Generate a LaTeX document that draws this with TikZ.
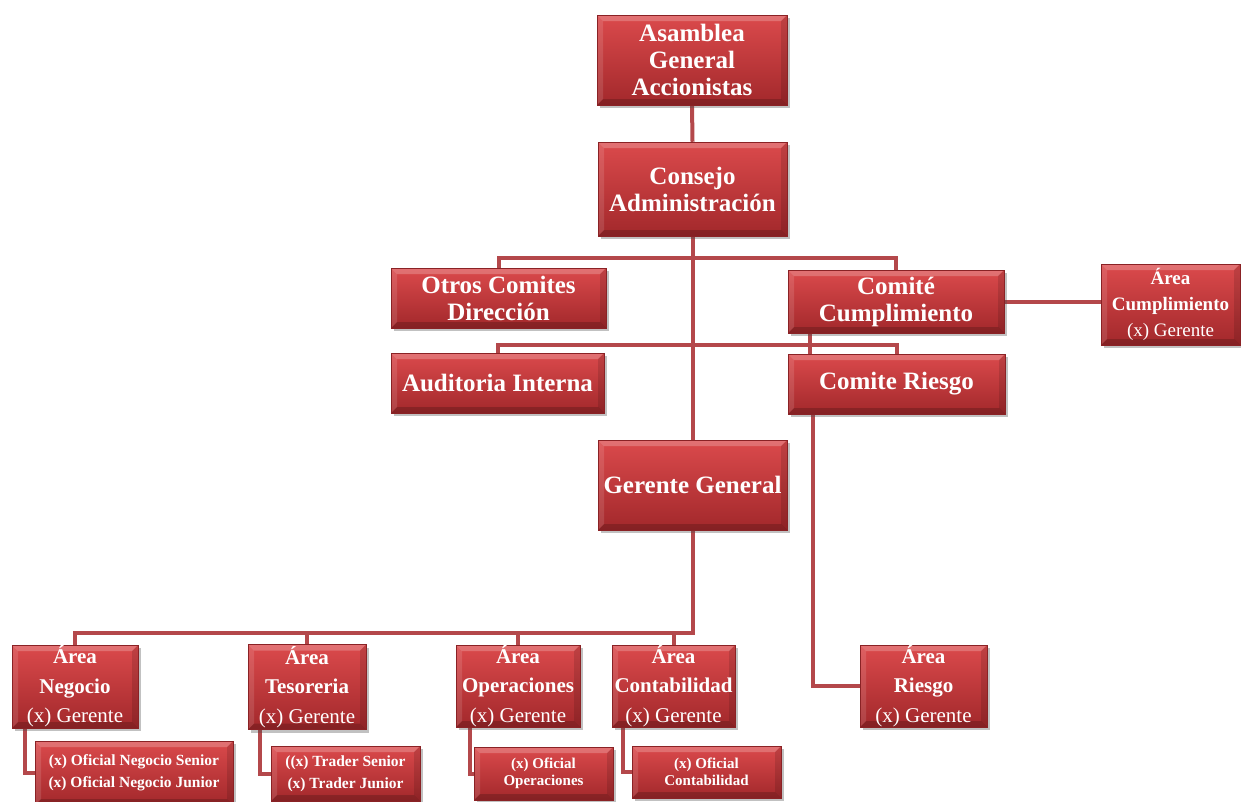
\documentclass[tikz,border=0pt]{standalone}
\usepackage{fontspec}
\setmainfont{Liberation Serif}
\usetikzlibrary{shadows,backgrounds}
\definecolor{boxtop}{HTML}{DB4A4C}
\definecolor{boxmid}{HTML}{CC3C3F}
\definecolor{boxbot}{HTML}{A2282B}
\definecolor{linec}{HTML}{B4484B}
\tikzset{
  orgbox/.style={draw=boxbot!85!black, line width=0.5pt, inner sep=0pt,
    top color=boxtop, middle color=boxmid, bottom color=boxbot,
    text=white, align=center,
    drop shadow={shadow xshift=2.5pt, shadow yshift=-3pt, opacity=.35, fill=black!70},
    path picture={
      \fill[white,opacity=.22] (path picture bounding box.north west) -- (path picture bounding box.north east)
        -- ([shift={(-6pt,-6pt)}]path picture bounding box.north east) -- ([shift={(6pt,-6pt)}]path picture bounding box.north west) -- cycle;
      \fill[white,opacity=.12] (path picture bounding box.north west) -- ([shift={(6pt,-6pt)}]path picture bounding box.north west)
        -- ([shift={(6pt,6pt)}]path picture bounding box.south west) -- (path picture bounding box.south west) -- cycle;
      \fill[black,opacity=.18] (path picture bounding box.south west) -- (path picture bounding box.south east)
        -- ([shift={(-6pt,6pt)}]path picture bounding box.south east) -- ([shift={(6pt,6pt)}]path picture bounding box.south west) -- cycle;
      \fill[black,opacity=.12] (path picture bounding box.north east) -- ([shift={(-6pt,-6pt)}]path picture bounding box.north east)
        -- ([shift={(-6pt,6pt)}]path picture bounding box.south east) -- (path picture bounding box.south east) -- cycle;
    }},
  bigtxt/.style={font=\bfseries\fontsize{25}{27}\selectfont},
  areatxt/.style={font=\fontsize{21}{29.5}\selectfont},
  smalltxt/.style={font=\bfseries\fontsize{15.5}{22}\selectfont},
  tinytxt/.style={font=\bfseries\fontsize{15}{16.5}\selectfont},
  conn/.style={draw=linec, line width=4pt, line join=miter},
  bx/.style n args={2}{minimum width=#1, minimum height=#2}
}
\begin{document}
\begin{tikzpicture}[x=1pt,y=-1pt]
\useasboundingbox (0,0) rectangle (1241,801);
% top hierarchy
\node[orgbox,bigtxt,bx={190pt}{90pt}] (asam) at (692,60) {Asamblea\\General\\Accionistas};
\node[orgbox,bigtxt,bx={189pt}{94pt}] (cons) at (692.5,189) {Consejo\\Administración};
\node[orgbox,bigtxt,bx={215pt}{60pt}] (otros) at (498.5,298) {Otros Comites\\Dirección};
\node[orgbox,bigtxt,bx={216pt}{63pt}] (cumpl) at (896,301.5) {Comité\\Cumplimiento};
\node[orgbox,font=\fontsize{19}{26}\selectfont,bx={139pt}{81pt}] (acum) at (1170.5,304.5) {\textbf{Área}\\\textbf{Cumplimiento}\\(x) Gerente};
\node[orgbox,bigtxt,bx={213pt}{60pt}] (audit) at (497.5,383) {Auditoria Interna};
\node[orgbox,bigtxt,bx={217pt}{60pt}] (riesgo) at (896.5,384) {Comite Riesgo};
\node[orgbox,bigtxt,bx={189pt}{90pt}] (ger) at (692.5,485) {Gerente General};
% areas
\node[orgbox,areatxt,bx={126pt}{83pt}] (neg) at (75,686.5) {\textbf{Área}\\\textbf{Negocio}\\(x) Gerente};
\node[orgbox,areatxt,bx={118pt}{85pt}] (tes) at (307,687) {\textbf{Área}\\\textbf{Tesoreria}\\(x) Gerente};
\node[orgbox,areatxt,bx={124pt}{82pt}] (ope) at (518,686) {\textbf{Área}\\\textbf{Operaciones}\\(x) Gerente};
\node[orgbox,areatxt,bx={123pt}{82pt}] (con) at (673.5,686) {\textbf{Área}\\\textbf{Contabilidad}\\(x) Gerente};
\node[orgbox,areatxt,bx={127pt}{82pt}] (ari) at (923.5,686) {\textbf{Área}\\\textbf{Riesgo}\\(x) Gerente};
% sub boxes
\node[orgbox,smalltxt,bx={198pt}{64pt}] (oneg) at (134,773) {(x) Oficial Negocio Senior\\(x) Oficial Negocio Junior};
\node[orgbox,smalltxt,bx={149pt}{55pt}] (otra) at (345.5,773.5) {((x) Trader Senior\\(x) Trader Junior};
\node[orgbox,tinytxt,bx={139pt}{53pt}] (oope) at (543.5,773.5) {(x) Oficial\\Operaciones};
\node[orgbox,tinytxt,bx={149pt}{52pt}] (ocon) at (706.5,772) {(x) Oficial\\Contabilidad};
% junction coordinates
\coordinate (j1) at (692.5,258);
\coordinate (j2) at (692.5,345);
\coordinate (j3) at (692.5,633);
\begin{scope}[on background layer]
\draw[conn] (asam.south) -- (cons.north);
\draw[conn] (cons.south) -- (ger.north);
\draw[conn] (otros.north) |- (j1) -| (cumpl.north);
\draw[conn] (audit.north) |- (j2) -| (riesgo.north);
\draw[conn] ([xshift=-86pt]cumpl.south) -- ([xshift=-86pt]cumpl.south |- riesgo.north);
\draw[conn] (cumpl.east) -- (cumpl.east -| acum.west);
\draw[conn] ([xshift=-84pt]riesgo.south) |- (ari.west);
\draw[conn] (ger.south) -- (j3) -| (neg.north);
\draw[conn] (tes.north) -- (tes.north |- j3);
\draw[conn] (ope.north) -- (ope.north |- j3);
\draw[conn] (con.north) -- (con.north |- j3);
\draw[conn] ([xshift=-50pt]neg.south) |- (oneg.west);
\draw[conn] ([xshift=-47pt]tes.south) |- (otra.west);
\draw[conn] ([xshift=-48pt]ope.south) |- (oope.west);
\draw[conn] ([xshift=-50.5pt]con.south) |- (ocon.west);
\end{scope}
\end{tikzpicture}
\end{document}
